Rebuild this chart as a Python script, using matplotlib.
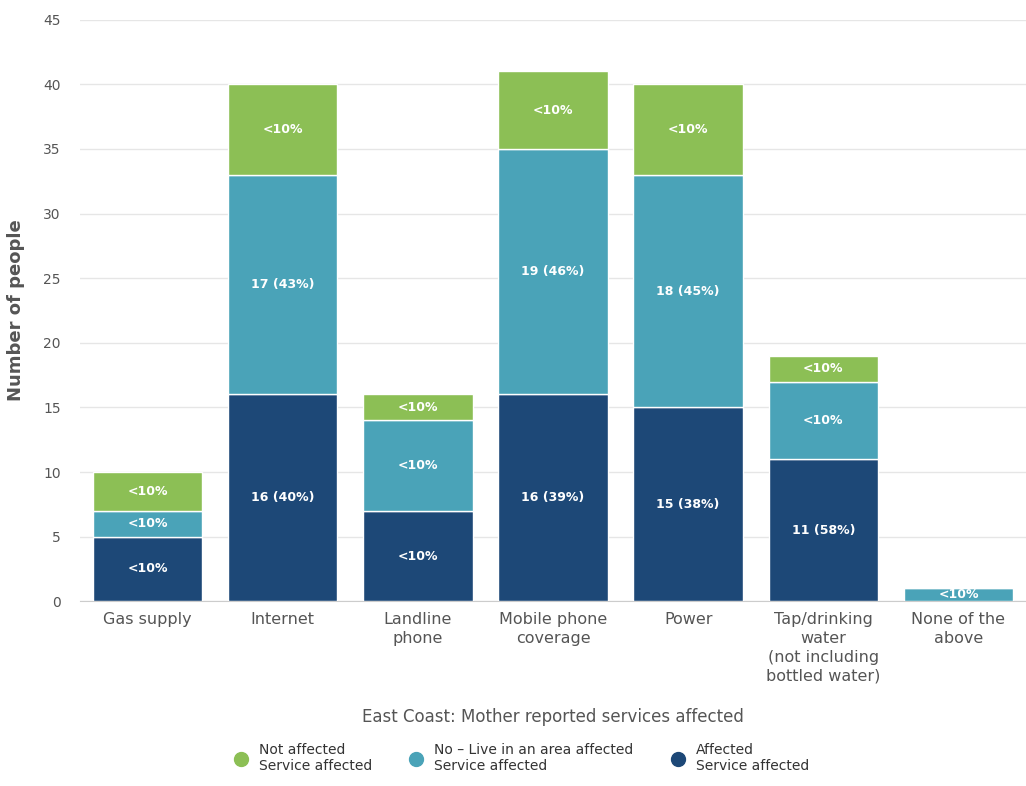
import numpy as np
import matplotlib.pyplot as plt

# datos
categorias = ["Gas supply", "Internet", "Landline\nphone", "Mobile phone\ncoverage",
              "Power", "Tap/drinking\nwater\n(not including\nbottled water)", "None of the\nabove"]
afectado = [5, 16, 7, 16, 15, 11, 0]
zona_afectada = [2, 17, 7, 19, 18, 6, 1]
no_afectado = [3, 7, 2, 6, 7, 2, 0]

etq_afectado = ["<10%", "16 (40%)", "<10%", "16 (39%)", "15 (38%)", "11 (58%)", ""]
etq_zona = ["<10%", "17 (43%)", "<10%", "19 (46%)", "18 (45%)", "<10%", "<10%"]
etq_no = ["<10%", "<10%", "<10%", "<10%", "<10%", "<10%", ""]

colores = ["#1d4877", "#4aa3b8", "#8cbf55"]
gris = "#555555"

fig = plt.figure(figsize=(10.26, 7.86), dpi=100)
ax = fig.add_axes([0.078, 0.235, 0.922, 0.74])

x = np.arange(len(categorias))
ancho = 0.81
abajo = np.zeros(len(categorias))
series = [(afectado, etq_afectado, colores[0]),
          (zona_afectada, etq_zona, colores[1]),
          (no_afectado, etq_no, colores[2])]
for valores, etiquetas, color in series:
    valores = np.array(valores, dtype=float)
    ax.bar(x, valores, ancho, bottom=abajo, color=color, edgecolor="white", linewidth=1, zorder=3)
    for i, (v, t) in enumerate(zip(valores, etiquetas)):
        if v > 0 and t:
            ax.text(x[i], abajo[i] + v / 2, t, ha="center", va="center", color="white",
                    fontsize=9, fontweight="bold", zorder=4)
    abajo += valores

ax.set_xlim(-0.5, len(categorias) - 0.5)
ax.set_ylim(0, 45)
ax.set_yticks(range(0, 46, 5))
ax.grid(axis="y", color="#e6e6e6", linewidth=1, zorder=0)
for s in ["top", "right", "left"]:
    ax.spines[s].set_visible(False)
ax.spines["bottom"].set_color("#cccccc")
ax.tick_params(axis="y", length=0, colors=gris, labelsize=10, pad=14)
ax.tick_params(axis="x", length=0, colors=gris, labelsize=11.5, pad=8)
ax.set_xticks(x)
ax.set_xticklabels(categorias, linespacing=1.3, va="top")
ax.set_ylabel("Number of people", fontsize=13, color=gris, fontweight="bold")
ax.yaxis.set_label_coords(-0.058, 0.5)
ax.set_xlabel("East Coast: Mother reported services affected", fontsize=12, color=gris,
              labelpad=18)

manejadores = [plt.Line2D([], [], marker="o", linestyle="", markersize=10, color=c) for c in colores[::-1]]
nombres = ["Not affected\nService affected", "No – Live in an area affected\nService affected",
           "Affected\nService affected"]
fig.legend(manejadores, nombres, loc="lower center", bbox_to_anchor=(0.505, 0.0), ncol=3,
           frameon=False, fontsize=10, labelcolor="#333333", handletextpad=0.3,
           columnspacing=2.2)

plt.savefig("out.png", dpi=100)
